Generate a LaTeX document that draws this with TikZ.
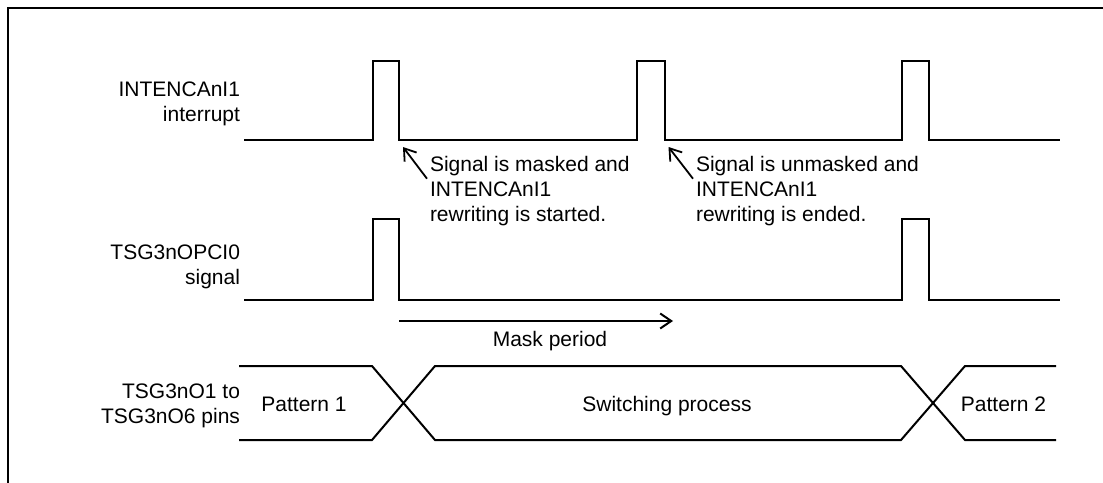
\documentclass[tikz,border=0pt]{standalone}
\usepackage{fontspec}
\setmainfont{Liberation Sans}
\usetikzlibrary{arrows.meta}
\begin{document}
\begin{tikzpicture}[x=1pt,y=-1pt,
  sig/.style={line width=2pt, line join=miter, line cap=butt},
  frameline/.style={line width=2pt},
  txt/.style={font=\fontsize{21}{25}\selectfont, inner sep=0pt, outer sep=0pt},
  notearrow/.style={line width=1.8pt, -{Straight Barb[length=11pt,width=15pt]}},
  maskarrow/.style={line width=2pt, -{Straight Barb[length=11pt,width=15pt]}}]
\useasboundingbox (0,0) rectangle (1103,482);
% frame (top and left edges)
\draw[frameline] (8,495) -- (8,8) -- (1115,8);

% left labels
\node[txt, align=right, anchor=north east] (labA) at (240,82) {INTENCAnI1\\interrupt};
\node[txt, align=right, anchor=north east] (labB) at (240,244.5) {TSG3nOPCI0\\signal};
\node[txt, align=right, anchor=north east] (labC) at (240,383.5) {TSG3nO1 to\\TSG3nO6 pins};

% INTENCAnI1 interrupt waveform
\draw[sig] (244,140) -- (372.6,140) -- (372.6,61) -- (399.3,61) -- (399.3,140)
  -- (637,140) -- (637,61) -- (665,61) -- (665,140)
  -- (901.7,140) -- (901.7,61) -- (929.3,61) -- (929.3,140) -- (1060,140);

% TSG3nOPCI0 signal waveform
\draw[sig] (244,300) -- (372.6,300) -- (372.6,219) -- (399.3,219) -- (399.3,300)
  -- (901.7,300) -- (901.7,219) -- (929.3,219) -- (929.3,300) -- (1060,300);

% bus waveform
\draw[sig] (239,366) -- (372,366) -- (435,440) -- (901,440) -- (965,366) -- (1056,366);
\draw[sig] (239,440) -- (372,440) -- (435,366) -- (901,366) -- (965,440) -- (1056,440);

% bus labels
\node[txt, anchor=base] (p1) at (304,411.5) {Pattern 1};
\node[txt, anchor=base] (sw) at (667,411.5) {Switching process};
\node[txt, anchor=base] (p2) at (1003.5,411.5) {Pattern 2};

% mask period
\coordinate (maskS) at (399.3,321);
\coordinate (maskE) at (673,321);
\draw[maskarrow] (maskS) -- (maskE);
\node[txt, anchor=base] (mask) at (550,346.7) {Mask period};

% annotations
\node[txt, align=left, anchor=north west] (noteA) at (430,156.7)
  {Signal is masked and\\INTENCAnI1\\rewriting is started.};
\node[txt, align=left, anchor=north west] (noteB) at (696,156.7)
  {Signal is unmasked and\\INTENCAnI1\\rewriting is ended.};
\coordinate (tipA) at (403,147);
\coordinate (tipB) at (668.5,147);
\draw[notearrow] ([shift={(-3,22)}]noteA.north west) -- (tipA);
\draw[notearrow] ([shift={(-3,22)}]noteB.north west) -- (tipB);
\end{tikzpicture}
\end{document}
